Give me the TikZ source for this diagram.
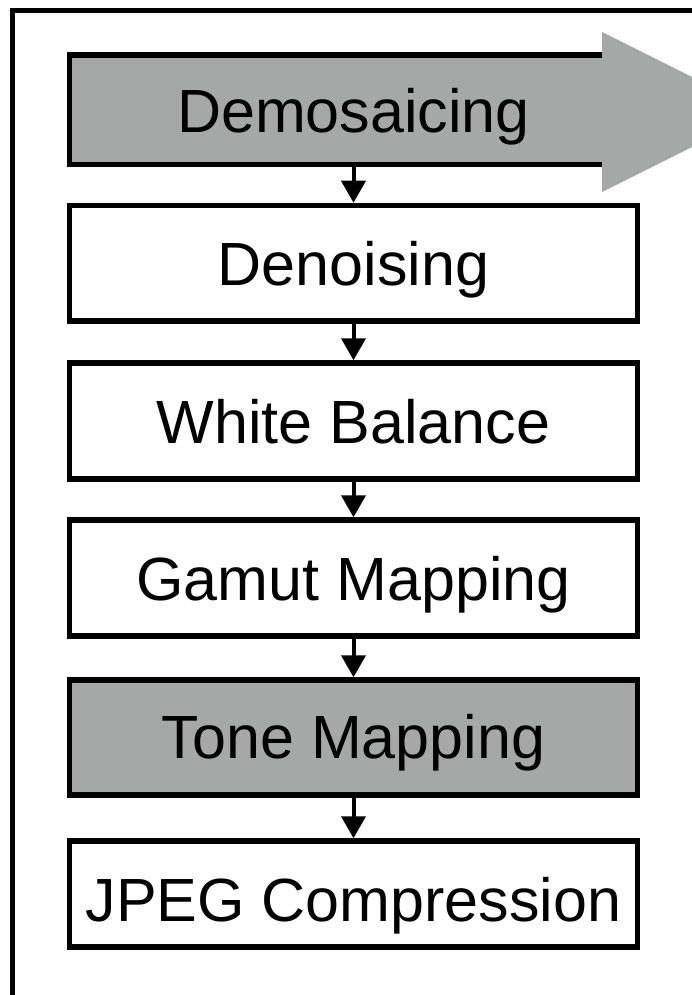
\documentclass[tikz,border=0pt]{standalone}
\usepackage{fontspec}
\setmainfont{Liberation Sans}
\usetikzlibrary{arrows.meta}
\definecolor{boxgray}{RGB}{165,168,166}
\begin{document}
\begin{tikzpicture}[x=1pt,y=-1pt,
  stagebox/.style={draw=black,line width=5.5pt,minimum width=568pt,inner sep=0pt},
  lbl/.style={anchor=base,inner sep=0pt,font=\fontsize{61}{72}\selectfont},
  conn/.style={line width=4pt,-{Triangle[length=22pt,width=24pt]}}]
\useasboundingbox (0,0) rectangle (692,995);
\begin{scope}
\clip (0,0) rectangle (692,995);
\draw[line width=5pt] (12,10.5) rectangle (780,1100);
% Demosaicing arrow-shaped box
\node[fill=boxgray,minimum width=532.5pt,minimum height=109.5pt,inner sep=0pt,outer sep=0pt] (dem) at (335.75,109.75) {};
\draw[line width=5.5pt] (dem.north east) -- (dem.north west) -- (dem.south west) -- (dem.south east);
\fill[boxgray] (602,32) -- (762,112) -- (602,192) -- cycle;
\end{scope}
\node[lbl] (demt) at (353.5,133) {Demosaicing};
% Stages
\node[stagebox,fill=white,minimum height=115.5pt] (den) at (353.5,263.25) {};
\node[stagebox,fill=white,minimum height=116pt] (wb) at (353.5,421) {};
\node[stagebox,fill=white,minimum height=116pt] (gam) at (353.5,578) {};
\node[stagebox,fill=boxgray,minimum height=115pt] (tone) at (353.5,737.5) {};
\node[stagebox,fill=white,minimum height=106pt] (jpeg) at (353.5,894) {};
\node[lbl] (dent) at (353.5,285) {Denoising};
\node[lbl] (wbt) at (353.5,443) {White Balance};
\node[lbl] (gamt) at (353.5,600) {Gamut Mapping};
\node[lbl] (tonet) at (353.5,758) {Tone Mapping};
\node[lbl] (jpegt) at (353.5,921) {JPEG Compression};
% Connectors
\draw[conn] (dem.south -| den.north) -- (den.north);
\draw[conn] (den.south) -- (wb.north);
\draw[conn] (wb.south) -- (gam.north);
\draw[conn] (gam.south) -- (tone.north);
\draw[conn] (tone.south) -- (jpeg.north);
\end{tikzpicture}
\end{document}
